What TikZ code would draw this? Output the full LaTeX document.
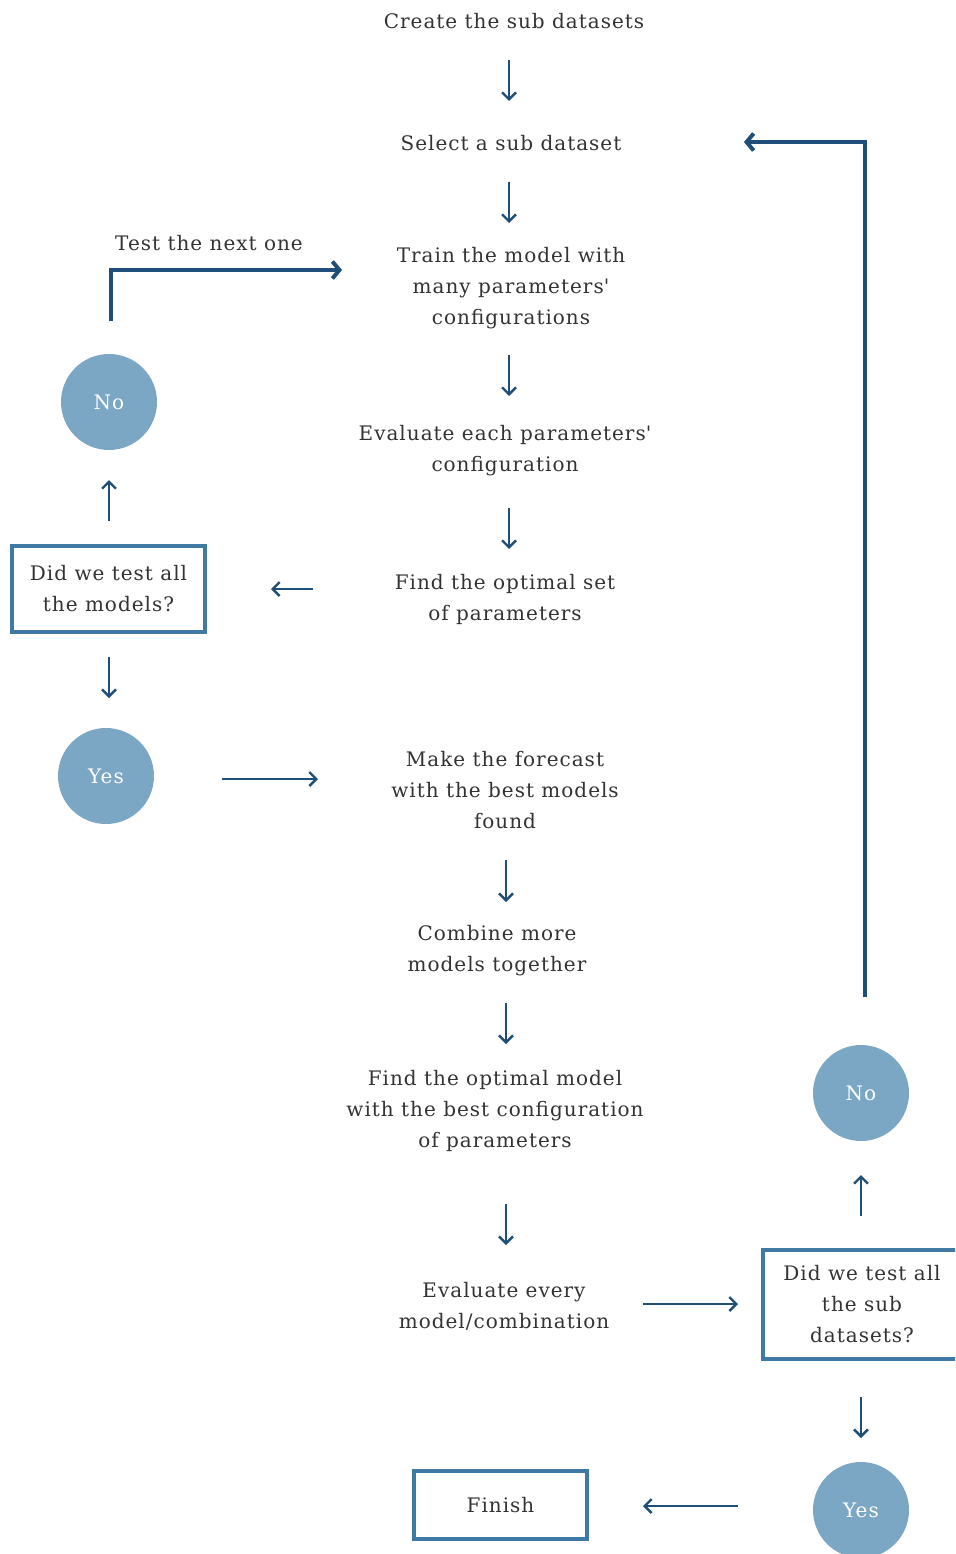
\documentclass[tikz,border=0pt]{standalone}
\usepackage{fontspec}
\setmainfont{DejaVu Serif}[LetterSpace=5]
\usetikzlibrary{arrows.meta}
\definecolor{arrowblue}{HTML}{1F4E79}
\definecolor{boxblue}{HTML}{3E7AA3}
\definecolor{circblue}{HTML}{7BA7C4}
\definecolor{txtgray}{HTML}{333333}
\begin{document}
\begin{tikzpicture}[x=1pt,y=-1pt,
  lbl/.style={align=center, text=txtgray, font=\fontsize{20}{31}\selectfont, inner sep=0pt},
  circ/.style={circle, fill=circblue, minimum size=96pt, inner sep=0pt, text=white, font=\fontsize{20}{31}\selectfont},
  qbox/.style={draw=boxblue, line width=4pt, align=center, text=txtgray, font=\fontsize{20}{31}\selectfont, inner sep=0pt},
  arr/.style={draw=arrowblue, line width=2.4pt, -{Straight Barb[length=7pt,width=14pt]}},
  loop/.style={draw=arrowblue, line width=4pt, -{Straight Barb[length=7pt,width=17pt]}}
]
\clip (0,0) rectangle (955,1554);
\fill[white] (0,0) rectangle (955,1554);

% central text nodes
\node[lbl] (create) at (514,21) {Create the sub datasets};
\node[lbl] (select) at (511,143) {Select a sub dataset};
\node[lbl] (train) at (511,288) {Train the model with\\many parameters\textquotesingle\\configurations};
\node[lbl] (evalp) at (505,451) {Evaluate each parameters\textquotesingle\\configuration};
\node[lbl] (findset) at (505,599) {Find the optimal set\\of parameters};
\node[lbl] (forecast) at (505,790) {Make the forecast\\with the best models\\found};
\node[lbl] (combine) at (497,951) {Combine more\\models together};
\node[lbl] (findmodel) at (495,1111) {Find the optimal model\\with the best configuration\\of parameters};
\node[lbl] (evalm) at (504,1306) {Evaluate every\\model/combination};
\node[lbl] (testnext) at (209,243) {Test the next one};

% left column
\node[qbox, minimum width=193pt, minimum height=86pt] (qmodels) at (108.5,589) {Did we test all\\the models?};
\node[circ] (noL) at (109,402) {No};
\node[circ] (yesL) at (106,776) {Yes};

% right column
\node[qbox, minimum width=198pt, minimum height=109pt] (qsub) at (862,1304.5) {Did we test all\\the sub\\datasets?};
\node[circ] (noR) at (861,1093) {No};
\node[circ] (yesR) at (861,1510) {Yes};
\node[qbox, minimum width=173pt, minimum height=68pt] (finish) at (500.5,1505) {Finish};

% arrow end points
\coordinate (a1s) at (509,60);   \coordinate (a1e) at (509,101);
\coordinate (a2s) at (509,182);  \coordinate (a2e) at (509,223);
\coordinate (a3s) at (509,355);  \coordinate (a3e) at (509,396);
\coordinate (a4s) at (509,508);  \coordinate (a4e) at (509,549);
\coordinate (a5s) at (313,589);  \coordinate (a5e) at (271,589);
\coordinate (a6s) at (109,521);  \coordinate (a6e) at (109,480);
\coordinate (a7s) at (109,657);  \coordinate (a7e) at (109,698);
\coordinate (a8s) at (222,779);  \coordinate (a8e) at (318,779);
\coordinate (a9s) at (506,860);  \coordinate (a9e) at (506,902);
\coordinate (a10s) at (506,1003); \coordinate (a10e) at (506,1044);
\coordinate (a11s) at (506,1204); \coordinate (a11e) at (506,1245);
\coordinate (a12s) at (643,1304); \coordinate (a12e) at (738,1304);
\coordinate (a13s) at (861,1216); \coordinate (a13e) at (861,1175);
\coordinate (a14s) at (861,1397); \coordinate (a14e) at (861,1438);
\coordinate (a15s) at (738,1506); \coordinate (a15e) at (643,1506);
\coordinate (l1s) at (111,321); \coordinate (l1c) at (111,270); \coordinate (l1e) at (342,270);
\coordinate (l2s) at (865,997); \coordinate (l2c) at (865,142); \coordinate (l2e) at (744,142);

\draw[arr] (a1s) -- (a1e);
\draw[arr] (a2s) -- (a2e);
\draw[arr] (a3s) -- (a3e);
\draw[arr] (a4s) -- (a4e);
\draw[arr] (a5s) -- (a5e);
\draw[arr] (a6s) -- (a6e);
\draw[arr] (a7s) -- (a7e);
\draw[arr] (a8s) -- (a8e);
\draw[arr] (a9s) -- (a9e);
\draw[arr] (a10s) -- (a10e);
\draw[arr] (a11s) -- (a11e);
\draw[arr] (a12s) -- (a12e);
\draw[arr] (a13s) -- (a13e);
\draw[arr] (a14s) -- (a14e);
\draw[arr] (a15s) -- (a15e);
\draw[loop] (l1s) -- (l1c) -- (l1e);
\draw[loop] (l2s) -- (l2c) -- (l2e);
\end{tikzpicture}
\end{document}
